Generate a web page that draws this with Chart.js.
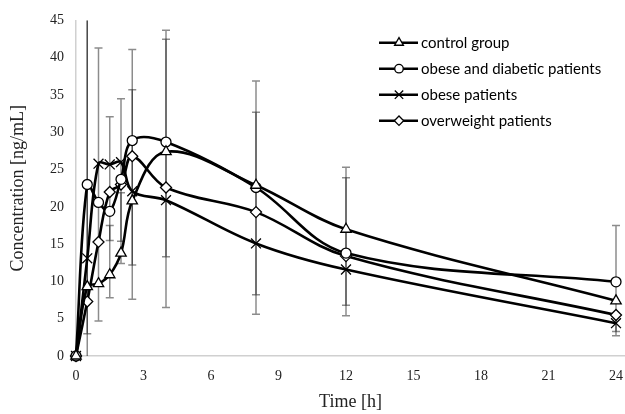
<!DOCTYPE html>
<html><head><meta charset="utf-8">
<script src="https://cdn.jsdelivr.net/npm/chart.js@4/dist/chart.umd.min.js"></script>
<style>html,body{margin:0;padding:0;background:#fff}#wrap{width:625px;height:414px;position:relative}</style>
</head><body><div id="wrap"><canvas id="c" width="625" height="414"></canvas></div>
<script>
// ---- data ----
const timePoints = [0, 0.5, 1, 1.5, 2, 2.5, 4, 8, 12, 24];
const seriesNames = ['control group', 'obese and diabetic patients', 'obese patients', 'overweight patients'];
const controlGroup  = [0, 9.3, 9.7, 10.9, 13.8, 20.8, 27.4, 22.9, 17.0, 7.4];
const obeseDiabetic = [0, 23.0, 20.6, 19.4, 23.7, 28.9, 28.7, 22.6, 13.8, 9.95];
const obese         = [0, 13.1, 25.8, 25.7, 26.0, 22.1, 20.9, 15.1, 11.6, 4.4];
const overweight    = [0, 7.3, 15.3, 22.0, 23.0, 26.8, 22.6, 19.3, 13.4, 5.5];
const xTickValues = [0, 3, 6, 9, 12, 15, 18, 21, 24];
const yTickValues = [0, 5, 10, 15, 20, 25, 30, 35, 40, 45];
// error bars (time, lower end, upper end)
const errTimes = [0.5, 0.5, 1, 1.5, 1.5, 2, 2, 2.5, 2.5, 4, 4, 8, 8, 12, 12, 24, 24];
const errLow   = [-2, 3.0, 4.7, 7.8, 15.5, 12.4, 15.4, 7.6, 12.2, 6.5, 13.3, 5.6, 8.2, 5.4, 6.8, 2.7, 3.3];
const errHigh  = [50, 50, 41.3, 32.1, 17.5, 34.5, 21.9, 41.1, 35.7, 43.7, 42.5, 36.9, 32.7, 25.3, 23.9, 17.5, 5.5];

const seriesValues = [controlGroup, obeseDiabetic, obese, overweight];
const pointStyles = ['triangle', 'circle', 'crossRot', 'rectRot'];
const pointSizes = [6, 5, 7, 5.5];

const datasets = seriesValues.map((vals, i) => ({
  label: seriesNames[i],
  data: timePoints.map((t, j) => ({x: t, y: vals[j]})),
  borderColor: '#000',
  borderWidth: 2.6,
  backgroundColor: '#fff',
  pointStyle: pointStyles[i],
  pointRadius: pointSizes[i],
  pointBackgroundColor: '#fff',
  pointBorderColor: '#000',
  pointBorderWidth: 1.3,
  tension: 0.36,
  fill: false,
  clip: false
}));

const errorBarPlugin = {
  id: 'errorBars',
  beforeDatasetsDraw(chart) {
    const {ctx, chartArea, scales} = chart;
    ctx.save();
    ctx.beginPath();
    ctx.rect(chartArea.left, chartArea.top, chartArea.right - chartArea.left, chartArea.bottom - chartArea.top);
    ctx.clip();
    ctx.strokeStyle = 'rgba(0,0,0,0.45)';
    ctx.lineWidth = 1.5;
    for (let i = 0; i < errTimes.length; i++) {
      const x = scales.x.getPixelForValue(errTimes[i]);
      const y1 = scales.y.getPixelForValue(errLow[i]);
      const y2 = scales.y.getPixelForValue(errHigh[i]);
      ctx.beginPath();
      ctx.moveTo(x, y1); ctx.lineTo(x, y2);
      ctx.moveTo(x - 4, y1); ctx.lineTo(x + 4, y1);
      ctx.moveTo(x - 4, y2); ctx.lineTo(x + 4, y2);
      ctx.stroke();
    }
    ctx.restore();
  }
};

const legendPlugin = {
  id: 'insideLegend',
  afterDraw(chart) {
    const ctx = chart.ctx;
    ctx.save();
    chart.data.datasets.forEach((ds, i) => {
      const y = 42.7 + i * 26;
      ctx.strokeStyle = '#000';
      ctx.lineWidth = 2.6;
      ctx.beginPath();
      ctx.moveTo(379, y); ctx.lineTo(418, y);
      ctx.stroke();
      ctx.lineWidth = 1.3;
      ctx.fillStyle = '#fff';
      ctx.strokeStyle = '#000';
      Chart.helpers.drawPoint(ctx, {pointStyle: ds.pointStyle, radius: ds.pointRadius * 0.85, rotation: 0, borderWidth: 1.3}, 399, y);
      ctx.fillStyle = '#000';
      ctx.font = '15px Lato';
      ctx.textBaseline = 'middle';
      ctx.textAlign = 'left';
      ctx.fillText(ds.label, 421, y + 0.5);
    });
    ctx.restore();
  }
};

const serif = 'Liberation Serif';
new Chart(document.getElementById('c'), {
  type: 'line',
  data: {datasets},
  options: {
    responsive: false,
    animation: false,
    devicePixelRatio: 1,
    layout: {autoPadding: false, padding: {top: 20.5, right: 0, left: 0, bottom: 0}},
    plugins: {legend: {display: false}, tooltip: {enabled: false}},
    scales: {
      x: {
        type: 'linear', min: 0, max: 24.4,
        grid: {display: false, drawTicks: false},
        border: {display: true, color: '#d0d0d0', width: 1.5},
        afterBuildTicks: (s) => { s.ticks = xTickValues.map(v => ({value: v})); },
        afterFit: (s) => { s.height = 58; s.paddingLeft = 0; s.paddingRight = 0; },
        ticks: {padding: 12, color: '#222', font: {family: serif, size: 14}, maxRotation: 0},
        title: {display: true, text: 'Time [h]', color: '#222', font: {family: serif, size: 18}, padding: {top: 0, bottom: 1}}
      },
      y: {
        min: 0, max: 45,
        grid: {display: false, drawTicks: false},
        border: {display: true, color: '#d0d0d0', width: 1.5},
        afterBuildTicks: (s) => { s.ticks = yTickValues.map(v => ({value: v})); },
        afterFit: (s) => { s.width = 76; },
        ticks: {padding: 12, color: '#222', font: {family: serif, size: 14}},
        title: {display: true, text: 'Concentration [ng/mL]', color: '#222', font: {family: serif, size: 18}, padding: {top: 7, bottom: 0}}
      }
    }
  },
  plugins: [errorBarPlugin, legendPlugin]
});
</script>
</body></html>
